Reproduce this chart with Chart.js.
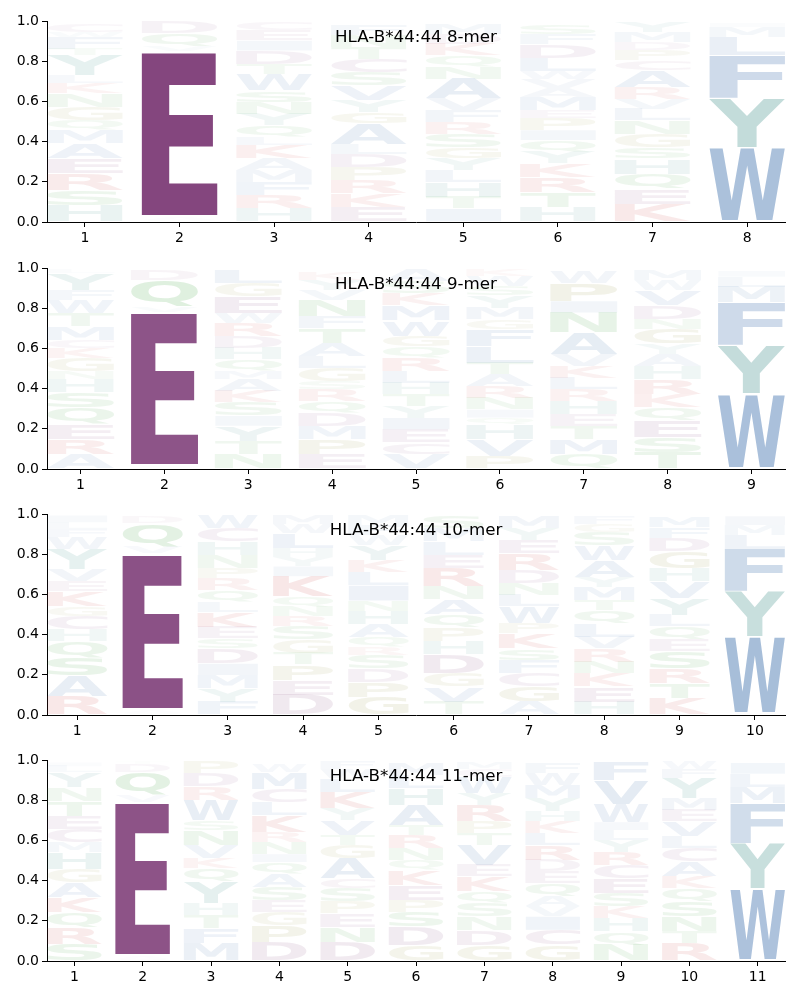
<!DOCTYPE html>
<html>
<head>
<meta charset="utf-8">
<script src="https://cdn.jsdelivr.net/npm/chart.js@4.4.1/dist/chart.umd.min.js"></script>
<style>
  body { margin: 0; background: #fff; }
  #wrap { position: relative; width: 800px; height: 1000px; background: #fff; }
  #wrap canvas { position: absolute; left: 0; }
</style>
</head>
<body>
<div id="wrap">
  <canvas id="logo8" width="800" height="246" style="top:0px"></canvas>
  <canvas id="logo9" width="800" height="246" style="top:247px"></canvas>
  <canvas id="logo10" width="800" height="246" style="top:493px"></canvas>
  <canvas id="logo11" width="800" height="246" style="top:739px"></canvas>
</div>
<script>
const allele = 'HLA-B*44:44'

// each column: letters stacked bottom -> top, [residue, probability]
const mer8 = [
  [['H',.083],['S',.075],['R',.083],['E',.075],['A',.075],['M',.066],['Q',.05],['G',.066],['N',.066],['K',.05],['L',.04],['Y',.1],['T',.033],['F',.058],['W',.025],['C',.04]],
  [['S',.01],['A',.01],['E',.83],['V',.025],['Q',.066],['D',.058]],
  [['H',.068],['R',.066],['F',.066],['M',.058],['A',.058],['K',.066],['L',.04],['Q',.058],['Y',.058],['N',.058],['S',.058],['W',.083],['T',.05],['D',.066],['I',.05],['E',.05],['C',.04]],
  [['E',.075],['K',.066],['R',.066],['P',.066],['D',.066],['L',.05],['A',.1],['G',.058],['Y',.058],['V',.075],['S',.066],['C',.066],['T',.058],['N',.06],['F',.05]],
  [['I',.066],['T',.058],['H',.075],['L',.058],['Y',.058],['G',.058],['S',.066],['R',.058],['F',.058],['V',.058],['A',.1],['N',.06],['Q',.056],['K',.058],['D',.05],['M',.05]],
  [['H',.075],['T',.075],['R',.075],['K',.066],['Y',.058],['Q',.058],['I',.05],['P',.058],['E',.04],['M',.066],['A',.045],['V',.045],['W',.04],['L',.066],['D',.066],['F',.05],['S',.05]],
  [['K',.09],['E',.075],['Q',.075],['H',.075],['S',.058],['G',.066],['N',.066],['L',.058],['V',.05],['R',.058],['A',.083],['C',.05],['P',.05],['D',.04],['M',.05],['Y',.05]],
  [['A',.005],['W',.365],['Y',.245],['F',.215],['L',.09],['M',.05],['I',.02]]
]

const mer9 = [
  [['A',.073],['R',.075],['E',.075],['Q',.083],['S',.075],['H',.066],['N',.04],['G',.066],['K',.05],['C',.04],['M',.066],['T',.066],['W',.066],['F',.05],['Y',.083],['L',.02]],
  [['S',.008],['A',.007],['E',.767],['V',.025],['Q',.133],['D',.05]],
  [['N',.073],['T',.066],['Y',.075],['I',.05],['S',.066],['K',.058],['A',.058],['M',.04],['Q',.058],['H',.058],['D',.058],['R',.066],['W',.05],['E',.083],['G',.066],['L',.067]],
  [['E',.073],['P',.075],['M',.066],['D',.066],['Q',.058],['R',.058],['S',.04],['G',.066],['L',.058],['A',.066],['T',.075],['F',.058],['N',.083],['V',.05],['Y',.05],['K',.04]],
  [['V',.073],['C',.058],['E',.066],['I',.058],['Y',.058],['T',.058],['H',.058],['L',.058],['R',.066],['Q',.055],['G',.055],['W',.075],['M',.075],['K',.06],['S',.06],['A',.06]],
  [['P',.065],['V',.083],['H',.075],['Q',.033],['I',.04],['N',.058],['R',.058],['A',.058],['T',.058],['L',.083],['F',.083],['G',.05],['M',.058],['Y',.06],['S',.05],['W',.05],['K',.03]],
  [['Q',.073],['M',.075],['T',.066],['E',.058],['H',.066],['R',.058],['L',.058],['K',.058],['V',.058],['A',.108],['N',.1],['I',.058],['P',.09],['W',.058]],
  [['T',.083],['S',.075],['E',.083],['Q',.066],['K',.066],['R',.075],['H',.066],['A',.058],['Y',.05],['G',.075],['N',.05],['D',.066],['V',.075],['W',.05],['M',.05]],
  [['A',.005],['W',.368],['Y',.24],['F',.215],['M',.078],['L',.05],['I',.03]]
]

const mer10 = [
  [['R',.095],['A',.1],['S',.09],['Q',.083],['H',.058],['C',.066],['G',.05],['K',.075],['E',.05],['V',.058],['Y',.1],['W',.058],['F',.04],['L',.035],['I',.035]],
  [['S',.012],['A',.01],['E',.782],['V',.033],['Q',.116],['D',.035]],
  [['F',.066],['Y',.066],['M',.066],['I',.058],['D',.075],['S',.05],['E',.058],['K',.075],['L',.05],['Q',.058],['R',.058],['P',.05],['N',.066],['H',.066],['C',.066],['W',.066]],
  [['D',.1],['E',.075],['P',.075],['T',.058],['G',.066],['S',.066],['R',.05],['N',.05],['Q',.05],['K',.1],['I',.05],['Y',.045],['H',.045],['L',.075],['W',.045],['M',.045]],
  [['G',.09],['P',.075],['D',.066],['S',.066],['R',.04],['Q',.05],['A',.066],['H',.066],['N',.05],['I',.075],['L',.066],['K',.058],['Y',.075],['W',.05],['F',.05],['M',.05]],
  [['T',.066],['V',.075],['G',.066],['D',.095],['H',.066],['P',.066],['Q',.066],['A',.075],['N',.066],['R',.09],['E',.066],['L',.066],['M',.065],['S',.065]],
  [['A',.066],['G',.075],['C',.066],['F',.066],['S',.058],['K',.075],['P',.05],['W',.083],['L',.058],['N',.058],['D',.066],['R',.083],['E',.066],['Y',.06],['M',.06]],
  [['H',.066],['E',.075],['K',.066],['N',.058],['R',.066],['V',.058],['L',.066],['Q',.066],['T',.05],['M',.066],['Y',.05],['A',.083],['W',.075],['S',.066],['G',.04],['F',.04]],
  [['K',.083],['T',.075],['R',.075],['S',.083],['E',.058],['Q',.066],['L',.058],['Y',.083],['V',.083],['H',.066],['G',.083],['D',.066],['F',.055],['M',.055]],
  [['A',.008],['W',.382],['Y',.225],['F',.21],['L',.07],['M',.05],['I',.045]]
]

const mer11 = [
  [['S',.083],['R',.083],['Q',.075],['K',.075],['A',.075],['G',.066],['H',.083],['M',.05],['C',.066],['E',.066],['T',.075],['N',.066],['Y',.075],['L',.03],['I',.02]],
  [['S',.012],['A',.01],['E',.771],['V',.033],['Q',.116],['D',.04],['T',.01]],
  [['M',.088],['F',.075],['T',.066],['H',.058],['Y',.108],['Q',.066],['K',.05],['V',.066],['N',.075],['S',.05],['W',.1],['R',.066],['D',.066],['P',.058]],
  [['D',.095],['P',.083],['G',.066],['E',.058],['S',.066],['A',.066],['Q',.058],['I',.04],['N',.058],['R',.05],['K',.083],['L',.066],['C',.066],['M',.083],['W',.04]],
  [['D',.095],['N',.075],['E',.066],['P',.058],['S',.066],['C',.05],['A',.1],['G',.066],['T',.05],['V',.075],['Y',.058],['K',.083],['L',.066],['W',.045],['F',.04]],
  [['G',.08],['D',.09],['S',.075],['P',.058],['E',.075],['K',.075],['Q',.05],['N',.058],['R',.066],['T',.05],['A',.1],['H',.083],['L',.066],['M',.058]],
  [['G',.08],['D',.075],['N',.066],['S',.066],['Q',.058],['K',.075],['E',.058],['V',.1],['T',.058],['P',.058],['R',.083],['Y',.058],['W',.08],['C',.04],['M',.035]],
  [['G',.08],['C',.075],['I',.066],['V',.05],['A',.05],['Q',.066],['E',.058],['D',.058],['R',.075],['L',.058],['K',.058],['H',.05],['Y',.066],['M',.066],['W',.06],['F',.05]],
  [['N',.08],['Q',.066],['H',.066],['K',.058],['S',.066],['E',.075],['C',.066],['R',.066],['Y',.058],['L',.05],['I',.04],['W',.09],['V',.116],['F',.09]],
  [['R',.088],['T',.058],['N',.075],['S',.075],['Q',.066],['K',.058],['A',.075],['C',.066],['L',.058],['V',.075],['E',.058],['M',.058],['Y',.1],['F',.045],['W',.04]],
  [['A',.005],['W',.356],['Y',.225],['F',.2],['M',.08],['L',.065],['I',.055]]
]

// residue colours (drawn with opacity growing with probability)
const groupColors = {
  AVLIMFW: [64, 113, 173],
  YH: [52, 136, 130],
  DEC: [132, 70, 126],
  STNQ: [58, 159, 58],
  GP: [138, 138, 46],
  KR: [200, 55, 55]
}
const residueColor = {}
Object.entries(groupColors).forEach(([res, rgb]) => { for (const r of res) residueColor[r] = rgb })

const GLYPH_FONT = 'bold 200px "DejaVu Sans"'
const VPAD = 0.03
const FULL_ALPHA_AT = 0.83

const glyphCache = {}
function glyphBox(ctx, ch) {
  if (glyphCache[ch]) return glyphCache[ch]
  ctx.save()
  ctx.font = GLYPH_FONT
  const m = ctx.measureText(ch)
  ctx.restore()
  glyphCache[ch] = { l: m.actualBoundingBoxLeft, r: m.actualBoundingBoxRight, a: m.actualBoundingBoxAscent, d: m.actualBoundingBoxDescent }
  return glyphCache[ch]
}

const logoPlugin = {
  id: 'logo',
  afterDatasetsDraw(chart, args, opts) {
    const ctx = chart.ctx
    const cols = opts.columns
    chart.data.datasets.forEach((ds, k) => {
      chart.getDatasetMeta(k).data.forEach((bar, i) => {
        const item = cols[i][k]
        if (!item) return
        const [ch, p] = item
        const { x, y, base, width } = bar.getProps(['x', 'y', 'base', 'width'], true)
        const full = Math.abs(base - y)
        if (full < 0.5) return
        const pad = full * VPAD / 2
        const top = Math.min(y, base) + pad
        const bh = full - 2 * pad
        const g = glyphBox(ctx, ch)
        const rgb = residueColor[ch]
        const alpha = Math.min(1, p / FULL_ALPHA_AT)
        ctx.save()
        ctx.translate(x - width / 2, top)
        ctx.scale(width / (g.l + g.r), bh / (g.a + g.d))
        ctx.font = GLYPH_FONT
        ctx.textAlign = 'left'
        ctx.textBaseline = 'alphabetic'
        ctx.fillStyle = `rgba(${rgb[0]},${rgb[1]},${rgb[2]},${alpha})`
        ctx.fillText(ch, g.l, g.a)
        ctx.restore()
      })
    })
    const area = chart.chartArea
    ctx.save()
    ctx.font = '16.7px "DejaVu Sans"'
    ctx.fillStyle = '#000'
    ctx.textAlign = 'center'
    ctx.textBaseline = 'alphabetic'
    ctx.fillText(opts.title, (area.left + area.right) / 2, area.top + 20.5)
    ctx.restore()
  }
}

function drawLogo(id, cols, title) {
  const n = cols.length
  const positions = cols.map((c, i) => i + 1)
  const depth = Math.max(...cols.map(c => c.length))
  const datasets = []
  for (let k = 0; k < depth; k++) {
    datasets.push({
      data: cols.map((c, i) => ({ x: i + 1, y: c[k] ? c[k][1] : 0 })),
      backgroundColor: 'rgba(0,0,0,0)',
      borderWidth: 0,
      stack: 'logo',
      categoryPercentage: 0.8,
      barPercentage: 1
    })
  }
  const tickFont = { family: 'DejaVu Sans', size: 14 }
  new Chart(id, {
    type: 'bar',
    data: { datasets },
    options: {
      responsive: false,
      animation: false,
      devicePixelRatio: 1,
      layout: { padding: { top: 21, right: 15, bottom: 0, left: 0 } },
      plugins: {
        legend: { display: false },
        tooltip: { enabled: false },
        logo: { columns: cols, title }
      },
      scales: {
        x: {
          type: 'linear',
          min: 0.6,
          max: n + 0.4,
          offset: false,
          grid: { display: true, drawOnChartArea: false, drawTicks: true, tickLength: 5, color: '#000', offset: false },
          border: { display: true, color: '#000', width: 1 },
          ticks: { color: '#000', font: tickFont, padding: 3, maxRotation: 0, autoSkip: false, callback: v => String(v) },
          afterBuildTicks: axis => { axis.ticks = positions.map(v => ({ value: v })) },
          afterFit: axis => { axis.height = 24 }
        },
        y: {
          min: 0,
          max: 1,
          stacked: true,
          grid: { display: true, drawOnChartArea: false, drawTicks: true, tickLength: 5, color: '#000' },
          border: { display: true, color: '#000', width: 1 },
          ticks: { color: '#000', font: tickFont, padding: 3, stepSize: 0.2, callback: v => v.toFixed(1) },
          afterFit: axis => { axis.width = 47 }
        }
      }
    },
    plugins: [logoPlugin]
  })
}

drawLogo('logo8', mer8, allele + ' 8-mer')
drawLogo('logo9', mer9, allele + ' 9-mer')
drawLogo('logo10', mer10, allele + ' 10-mer')
drawLogo('logo11', mer11, allele + ' 11-mer')
</script>
</body>
</html>
